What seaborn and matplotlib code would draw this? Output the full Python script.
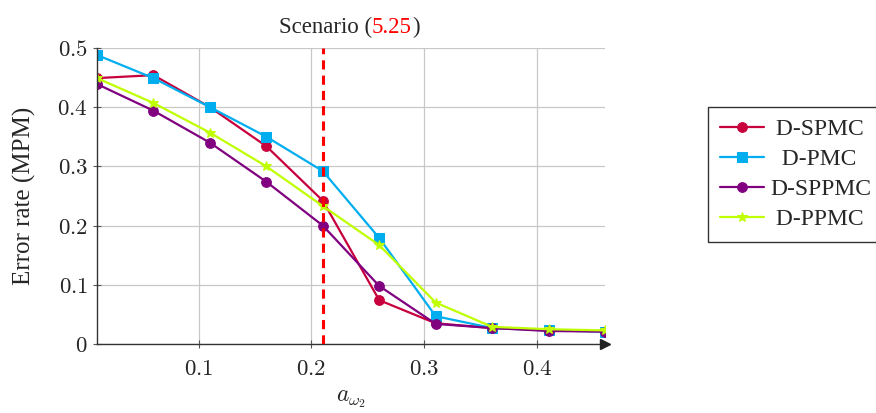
import numpy as np
import pandas as pd
import matplotlib
matplotlib.use("Agg")
import matplotlib.pyplot as plt
import seaborn as sns

# ---- data ----
x_vals = [0.01, 0.06, 0.11, 0.16, 0.21, 0.26, 0.31, 0.36, 0.41, 0.46]
d_spmc = [0.449, 0.454, 0.400, 0.334, 0.242, 0.074, 0.035, 0.027, 0.024, 0.021]
d_pmc = [0.488, 0.449, 0.400, 0.350, 0.292, 0.179, 0.047, 0.027, 0.023, 0.021]
d_sppmc = [0.439, 0.394, 0.340, 0.274, 0.200, 0.098, 0.034, 0.027, 0.022, 0.021]
d_ppmc = [0.449, 0.407, 0.357, 0.300, 0.233, 0.167, 0.070, 0.029, 0.025, 0.023]
series_names = ["D-SPMC", "D-PMC", "D-SPPMC", "D-PPMC"]
x_ticks = [0.1, 0.2, 0.3, 0.4]
y_ticks = [0, 0.1, 0.2, 0.3, 0.4, 0.5]
vline_x = 0.21

sns.set_style("whitegrid")
plt.rcParams["font.family"] = ["Liberation Serif", "DejaVu Serif"]
plt.rcParams["mathtext.fontset"] = "cm"

colors = ["#C8003C", "#00AEEF", "#800080", "#BFFF00"]
markers = ["o", "s", "o", "*"]
msizes = [7, 7, 7, 7]

fig = plt.figure(figsize=(8.76, 4.13), dpi=100)
ax = fig.add_axes([0.1107, 0.167, 0.58, 0.717])

all_y = [d_spmc, d_pmc, d_sppmc, d_ppmc]
for name, ys, c, m, ms in zip(series_names, all_y, colors, markers, msizes):
    df = pd.DataFrame({"x": x_vals, "y": ys})
    sns.lineplot(data=df, x="x", y="y", ax=ax, color=c, marker=m, markersize=ms,
                 markeredgecolor=c, linewidth=1.6, label=name)

ax.axvline(vline_x, color="red", linestyle=(0, (3, 2)), linewidth=2.2, zorder=5)

ax.set_xlim(0.01, 0.46)
ax.set_ylim(0, 0.5)
ax.set_xticks(x_ticks)
ax.set_yticks(y_ticks)
ax.set_xticklabels([f"${t:.1f}$" for t in x_ticks])
ax.set_yticklabels(["$0$"] + [f"${t:.1f}$" for t in y_ticks[1:]])
ax.tick_params(axis="both", labelsize=16.5, direction="inout", length=6,
               width=0.8, color="#555555", bottom=True, left=True)
ax.tick_params(axis="x", pad=8)
ax.grid(True, color="#c8c8c8", linewidth=0.9)

for s in ["top", "right"]:
    ax.spines[s].set_visible(False)
for s in ["left", "bottom"]:
    ax.spines[s].set_visible(True)
    ax.spines[s].set_color("#333333")
    ax.spines[s].set_linewidth(1.0)
ax.plot(1, 0, marker=">", color="#222222", markersize=7, transform=ax.transAxes,
        clip_on=False, zorder=6)

ax.set_xlabel(r"$a_{\omega_2}$", fontsize=17, labelpad=6)
ax.set_ylabel("Error rate (MPM)", fontsize=18, labelpad=15)

# Title with coloured part
t1 = ax.text(0.358, 1.035, "Scenario (", transform=ax.transAxes, fontsize=16.5,
             ha="left", va="bottom")
t2 = ax.annotate("5.25", xycoords=t1, xy=(1, 0), va="bottom", fontsize=16.5, color="red")
t3 = ax.annotate(")", xycoords=t2, xy=(1, 0), va="bottom", fontsize=16.5)

handles, labels = ax.get_legend_handles_labels()
ax.legend_.remove()
# leading spaces approximate the centred legend text of the reference
pad_map = {"D-SPMC": " D-SPMC", "D-PMC": "  D-PMC", "D-SPPMC": "D-SPPMC", "D-PPMC": " D-PPMC"}
labels = [pad_map[l] for l in labels]
leg = fig.legend(handles, labels, loc="upper left", bbox_to_anchor=(0.808, 0.741),
                 fontsize=17, frameon=True, fancybox=False, edgecolor="#333333",
                 framealpha=1, borderpad=0.5, labelspacing=0.36, handlelength=1.9,
                 handletextpad=0.25, borderaxespad=0)
leg.get_frame().set_linewidth(1.0)

fig.savefig("out.png", dpi=100)
